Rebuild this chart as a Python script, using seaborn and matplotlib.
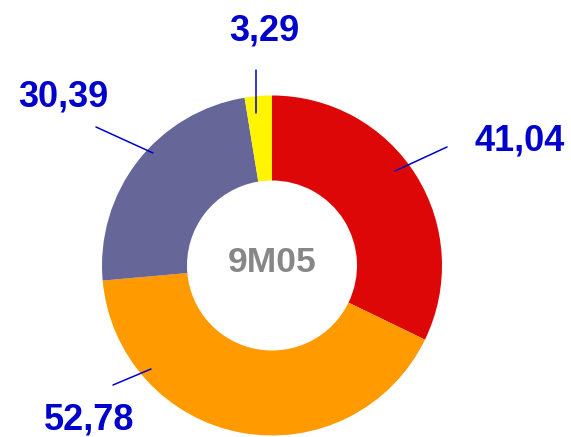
import matplotlib
matplotlib.use("Agg")
import matplotlib.pyplot as plt
import seaborn as sns

# data
labels = ["41,04", "52,78", "30,39", "3,29"]
values = [41.04, 52.78, 30.39, 3.29]
colors = ["#DD0707", "#FF9A00", "#666699", "#FFF500"]
center_label = "9M05"

sns.set_theme(style="white")
plt.rcParams["font.family"] = ["Liberation Sans", "DejaVu Sans"]

W, H = 571, 437
CX, CY, R = 272, 265.5, 170


def px(x, y):
    # pixel position -> data coords (pie radius 1)
    return (x - CX) / R, (CY - y) / R


fig = plt.figure(figsize=(W / 100, H / 100), dpi=100)
ax = fig.add_axes([0, 0, 1, 1])

ax.pie(values, colors=colors, startangle=90, counterclock=False,
       radius=1, wedgeprops=dict(width=0.5, linewidth=0))
ax.set_aspect("auto")
ax.set_xlim(-CX / R, (W - CX) / R)
ax.set_ylim(-(H - CY) / R, CY / R)
ax.axis("off")

# label text positions and leader lines (pixel coords)
label_pos = [(520, 141), (89, 420), (63, 97), (264, 31)]
leaders = [((395, 171), (447, 147)),
           ((151, 369), (113, 385)),
           ((153, 153), (96, 127)),
           ((256, 113), (256, 70))]

blue = "#0000CC"
for lab, pos, (p0, p1) in zip(labels, label_pos, leaders):
    x0, y0 = px(*p0)
    x1, y1 = px(*p1)
    ax.plot([x0, x1], [y0, y1], color=blue, lw=1.1)
    tx, ty = px(*pos)
    ax.text(tx, ty, lab, color=blue, fontsize=26, fontweight="bold",
            ha="center", va="center")

ax.text(*px(272, 263), center_label, color="#878787", fontsize=25.5,
        fontweight="bold", ha="center", va="center")

fig.savefig("out.png", dpi=100)
